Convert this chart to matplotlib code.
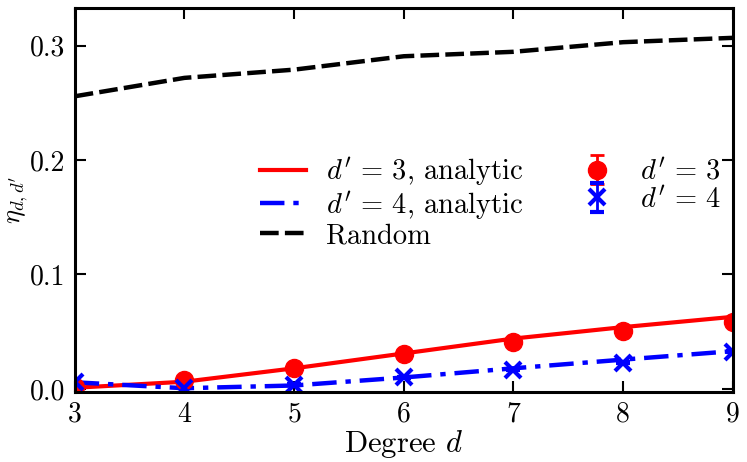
import matplotlib
matplotlib.use("Agg")
import matplotlib.pyplot as plt

plt.rcParams['font.family'] = 'serif'
plt.rcParams['font.serif'] = ['cmr10']
plt.rcParams['mathtext.fontset'] = 'cm'
plt.rcParams['axes.formatter.use_mathtext'] = True

degrees = [3, 4, 5, 6, 7, 8, 9]
analytic_d3 = [0.001, 0.0063, 0.018, 0.031, 0.044, 0.054, 0.063]
analytic_d4 = [0.0058, 0.0006, 0.003, 0.010, 0.018, 0.0256, 0.033]
random_vals = [0.2557, 0.2718, 0.279, 0.2907, 0.2946, 0.303, 0.3068]
sim_d3 = [0.0014, 0.008, 0.0187, 0.0308, 0.041, 0.0504, 0.0585]
sim_d3_err = [0.0005, 0.0005, 0.0005, 0.0005, 0.0005, 0.0005, 0.0005]
sim_d4 = [0.0058, 0.001, 0.0035, 0.010, 0.0167, 0.023, 0.0326]
sim_d4_err = [0.0005, 0.0005, 0.0005, 0.0005, 0.0005, 0.0005, 0.0005]
xticks = [3, 4, 5, 6, 7, 8, 9]
yticks = [0.0, 0.1, 0.2, 0.3]

fig = plt.figure(figsize=(7.47, 4.62), dpi=100)
ax = fig.add_axes([0.100, 0.152, 0.881, 0.831])

l1, = ax.plot(degrees, analytic_d3, color='red', lw=3, ls='-',
              label=r"$d'\,=\,3$, analytic")
l2, = ax.plot(degrees, analytic_d4, color='blue', lw=3.2, ls='-.', dashes=(5.5, 2, 1.2, 2),
              label=r"$d'\,=\,4$, analytic")
l3, = ax.plot(degrees, random_vals, color='black', lw=3.2, ls='--', dashes=(4.2, 1.4),
              label="Random")
e1 = ax.errorbar(degrees, sim_d3, yerr=sim_d3_err, fmt='o', color='red', ms=13,
                 capsize=5, capthick=2, elinewidth=2, label=r"$d'\,=\,3$")
e2 = ax.errorbar(degrees, sim_d4, yerr=sim_d4_err, fmt='x', color='blue', ms=11, mew=3,
                 capsize=5, capthick=2, elinewidth=2, label=r"$d'\,=\,4$")

ax.set_xlim(3, 9)
ax.set_ylim(-0.0025, 0.333)
ax.set_xticks(xticks)
ax.set_yticks(yticks)
ax.set_xticklabels([str(t) for t in xticks])
ax.set_yticklabels(["%.1f" % t for t in yticks])
ax.tick_params(direction='in', length=8, width=1.5, top=True, right=True,
               labelsize=20, pad=7)
for s in ax.spines.values():
    s.set_linewidth(2.2)

ax.set_xlabel(r"Degree $d$", fontsize=22, labelpad=0)
ax.set_ylabel(r"$\eta_{d,d'}$", fontsize=19)
ax.yaxis.set_label_coords(-0.068, 0.5)

ax.legend(handles=[l1, l2, l3, e1, e2], ncol=2, frameon=False, fontsize=20.5,
          loc='center', bbox_to_anchor=(0.632, 0.494), handlelength=1.62,
          labelspacing=0.04, columnspacing=1.8, handletextpad=0.7)

fig.savefig("out.png", dpi=100)
